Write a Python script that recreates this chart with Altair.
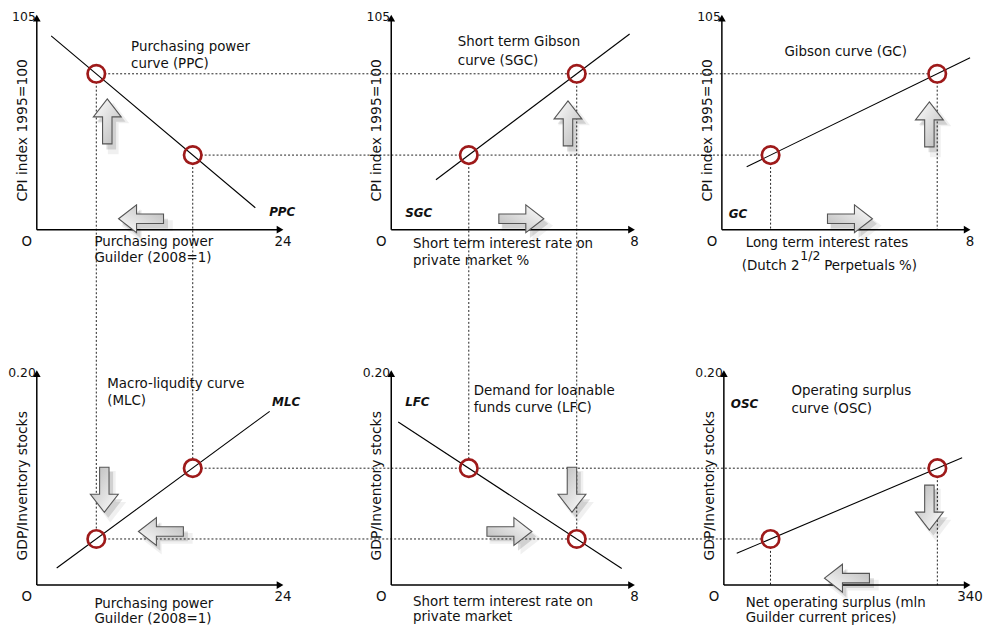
import altair as alt
import pandas as pd

# ---------------- data (each panel in its own units) ----------------
panel_names = ["PPC", "SGC", "GC", "MLC", "LFC", "OSC"]
x_max = [24, 8, 8, 24, 8, 340]
y_max = [105, 105, 105, 0.20, 0.20, 0.20]
x_max_labels = ["24", "8", "8", "24", "8", "340"]
y_max_labels = ["105", "105", "105", "0.20", "0.20", "0.20"]

curve_x_start = [1.4, 1.47, 0.8, 1.94, 0.23, 17.8]
curve_y_start = [94.9, 24.4, 30.8, 0.0159, 0.1521, 0.0296]
curve_x_end = [21.3, 7.84, 8.0, 22.7, 7.58, 329]
curve_y_end = [10.7, 95.8, 84.2, 0.162, 0.0155, 0.1188]

pt_x_a = [5.8, 2.55, 1.57, 5.8, 2.55, 64.4]
pt_y_a = [76.3, 36.5, 36.5, 0.043, 0.109, 0.043]
pt_x_b = [15.2, 6.1, 6.94, 15.2, 6.1, 294.8]
pt_y_b = [36.5, 76.3, 76.3, 0.109, 0.043, 0.109]

# dotted connectors: (panel, point) -> (panel, point) ; "axis" = drop to x-axis
connectors = [
    ((0, "a"), (2, "b")), ((0, "b"), (2, "a")),
    ((0, "a"), (3, "a")), ((0, "b"), (3, "b")),
    ((1, "a"), (4, "a")), ((1, "b"), (4, "b")),
    ((2, "a"), (2, "axis")), ((2, "b"), (2, "axis")),
    ((3, "b"), (5, "b")), ((3, "a"), (5, "a")),
    ((5, "a"), (5, "axis")), ((5, "b"), (5, "axis")),
]

# ---------------- layout ----------------
ox = [33, 390, 723, 33, 390, 725]
oy = [229, 229, 229, 587, 587, 587]
pw = [248, 245, 250, 248, 245, 248]
ph = 216


def gx(i, v):
    return ox[i] + v / x_max[i] * pw[i]


def gy(i, v):
    return oy[i] - v / y_max[i] * ph


def pt(i, w):
    if w == "a":
        return gx(i, pt_x_a[i]), gy(i, pt_y_a[i])
    return gx(i, pt_x_b[i]), gy(i, pt_y_b[i])


xs = alt.Scale(domain=[8, 983], nice=False, zero=False)
ys = alt.Scale(domain=[8, 627], nice=False, zero=False, reverse=True)


def X(f):
    return alt.X(f, type="quantitative", scale=xs, axis=None)


def Y(f):
    return alt.Y(f, type="quantitative", scale=ys, axis=None)


FONT = "DejaVu Sans"
INK = "#111111"

# connectors
rows = []
for (pa, wa), (pb, wb) in connectors:
    x1, y1 = pt(pa, wa)
    if wb == "axis":
        x2, y2 = x1, oy[pb]
    else:
        x2, y2 = pt(pb, wb)
    rows.append(dict(x=x1, y=y1, x2=x2, y2=y2))
conn_df = pd.DataFrame(rows)
conn = alt.Chart(conn_df).mark_rule(color="#222", strokeWidth=1, strokeDash=[2, 2]).encode(
    x=X("x"), y=Y("y"), x2=alt.X2("x2"), y2=alt.Y2("y2"))

# axes
ax_rows = []
tip_rows = []
for i in range(6):
    ax_rows.append(dict(x=ox[i], y=oy[i], x2=gx(i, x_max[i]) - 3, y2=oy[i]))
    ax_rows.append(dict(x=ox[i], y=oy[i], x2=ox[i], y2=gy(i, y_max[i]) + 3))
    tip_rows.append(dict(x=gx(i, x_max[i]) - 3, y=oy[i], a=90))
    tip_rows.append(dict(x=ox[i], y=gy(i, y_max[i]) + 3, a=0))
axes = alt.Chart(pd.DataFrame(ax_rows)).mark_rule(color="black", strokeWidth=1.5).encode(
    x=X("x"), y=Y("y"), x2=alt.X2("x2"), y2=alt.Y2("y2"))
tips = alt.Chart(pd.DataFrame(tip_rows)).mark_point(
    shape="triangle-up", filled=True, color="black", size=60, opacity=1).encode(
    x=X("x"), y=Y("y"), angle=alt.Angle("a:Q", scale=None))

# curves
cv_df = pd.DataFrame(dict(
    name=panel_names,
    x=[gx(i, curve_x_start[i]) for i in range(6)],
    y=[gy(i, curve_y_start[i]) for i in range(6)],
    x2=[gx(i, curve_x_end[i]) for i in range(6)],
    y2=[gy(i, curve_y_end[i]) for i in range(6)],
))
curves = alt.Chart(cv_df).mark_rule(color="black", strokeWidth=1.1).encode(
    x=X("x"), y=Y("y"), x2=alt.X2("x2"), y2=alt.Y2("y2"))

# circles
c_rows = []
for i in range(6):
    for w in "ab":
        x, y = pt(i, w)
        c_rows.append(dict(x=x, y=y))
c_df = pd.DataFrame(c_rows)
circ_fill = alt.Chart(c_df).mark_point(shape="circle", filled=True, color="white", size=310, opacity=1).encode(
    x=X("x"), y=Y("y"))
circ_ring = alt.Chart(c_df).mark_point(shape="circle", filled=False, color="#9e1a1a", size=310,
                                        strokeWidth=2.7, opacity=1).encode(x=X("x"), y=Y("y"))

# block arrows (annotation)
arrow_x = [104, 138, 568, 521, 932, 852, 101, 158, 572, 509, 932, 849]
arrow_y = [120, 218, 122, 218, 123, 218, 491, 533, 491, 533, 509, 580]
arrow_dir = [0, 270, 0, 90, 0, 90, 180, 270, 180, 90, 180, 270]
ar_df = pd.DataFrame(dict(x=arrow_x, y=arrow_y, a=arrow_dir))
ARROW = "M0,-1L0.62,-0.2L0.21,-0.2L0.21,1L-0.21,1L-0.21,-0.2L-0.62,-0.2Z"
grad = alt.LinearGradient(gradient="linear", x1=0, y1=0, x2=1, y2=1,
                          stops=[alt.GradientStop(offset=0, color="#ffffff"),
                                 alt.GradientStop(offset=1, color="#b8b8b8")])
shadow1 = alt.Chart(ar_df).mark_point(shape=ARROW, filled=True, color="black", opacity=0.06, size=2700,
                                      xOffset=6, yOffset=7, strokeWidth=0).encode(
    x=X("x"), y=Y("y"), angle=alt.Angle("a:Q", scale=None))
shadow2 = alt.Chart(ar_df).mark_point(shape=ARROW, filled=True, color="black", opacity=0.13, size=2150,
                                      xOffset=4, yOffset=5, strokeWidth=0).encode(
    x=X("x"), y=Y("y"), angle=alt.Angle("a:Q", scale=None))
arrows = alt.Chart(ar_df).mark_point(shape=ARROW, filled=True, fill=grad, stroke="#555555",
                                     strokeWidth=1.1, size=2050, opacity=1).encode(
    x=X("x"), y=Y("y"), angle=alt.Angle("a:Q", scale=None))

# texts
body_text = [
    ("Purchasing power", 128, 45), ("curve (PPC)", 128, 62),
    ("Purchasing power", 91, 241), ("Guilder (2008=1)", 91, 258),
    ("Short term Gibson", 457, 40), ("curve (SGC)", 457, 59),
    ("Short term interest rate on", 412, 244), ("private market %", 412, 261),
    ("Gibson curve (GC)", 786, 50),
    ("Long term interest rates", 747, 242), ("(Dutch 2", 743, 266), ("Perpetuals %)", 826, 266),
    ("Macro-liqudity curve", 104, 385), ("(MLC)", 104, 402),
    ("Purchasing power", 91, 606), ("Guilder (2008=1)", 91, 621),
    ("Demand for loanable", 473, 392), ("funds curve (LFC)", 473, 409),
    ("Short term interest rate on", 412, 604), ("private market", 412, 619),
    ("Operating surplus", 793, 392), ("curve (OSC)", 793, 410),
    ("Net operating surplus (mln", 747, 605), ("Guilder current prices)", 747, 620),
]
bt_df = pd.DataFrame(body_text, columns=["t", "x", "y"])
body = alt.Chart(bt_df).mark_text(align="left", baseline="middle", font=FONT, fontSize=13.5, color=INK).encode(
    x=X("x"), y=Y("y"), text="t:N")

sup = alt.Chart(pd.DataFrame([("1/2", 802, 256)], columns=["t", "x", "y"])).mark_text(
    align="left", baseline="middle", font=FONT, fontSize=12.5, color=INK).encode(x=X("x"), y=Y("y"), text="t:N")

name_pos_x = [267, 404, 730, 270, 404, 732]
name_pos_y = [211, 212, 213, 403, 403, 405]
nm_df = pd.DataFrame(dict(t=panel_names, x=name_pos_x, y=name_pos_y))
names = alt.Chart(nm_df).mark_text(align="left", baseline="middle", font=FONT, fontSize=12,
                                   fontWeight="bold", fontStyle="italic", color=INK).encode(
    x=X("x"), y=Y("y"), text="t:N")

tick_rows = []
for i in range(6):
    tick_rows.append(dict(t="O", x=ox[i] - 10, y=oy[i] + 12))
    tick_rows.append(dict(t=x_max_labels[i], x=gx(i, x_max[i]), y=oy[i] + 12))
tk_df = pd.DataFrame(tick_rows)
ticks = alt.Chart(tk_df).mark_text(align="center", baseline="middle", font=FONT, fontSize=13.5, color=INK).encode(
    x=X("x"), y=Y("y"), text="t:N")
ytk_df = pd.DataFrame(dict(t=y_max_labels, x=[o - 1 for o in ox], y=[gy(i, y_max[i]) + 2 for i in range(6)]))
yticks = alt.Chart(ytk_df).mark_text(align="right", baseline="middle", font=FONT, fontSize=12.5, color=INK).encode(
    x=X("x"), y=Y("y"), text="t:N")

yt_df = pd.DataFrame(dict(
    t=["CPI index 1995=100"] * 3 + ["GDP/Inventory stocks"] * 3,
    x=[o - 14 for o in ox], y=[o - 100 for o in oy]))
ytitles = alt.Chart(yt_df).mark_text(align="center", baseline="middle", font=FONT, fontSize=14, angle=270,
                                     color=INK).encode(x=X("x"), y=Y("y"), text="t:N")

chart = alt.layer(
    conn, axes, tips, circ_fill, curves, circ_ring, shadow1, shadow2, arrows,
    body, sup, names, ticks, yticks, ytitles,
).properties(width=975, height=619, padding=0).configure_view(stroke=None)

chart.save("out.html", embed_options={"renderer": "svg", "actions": False})
